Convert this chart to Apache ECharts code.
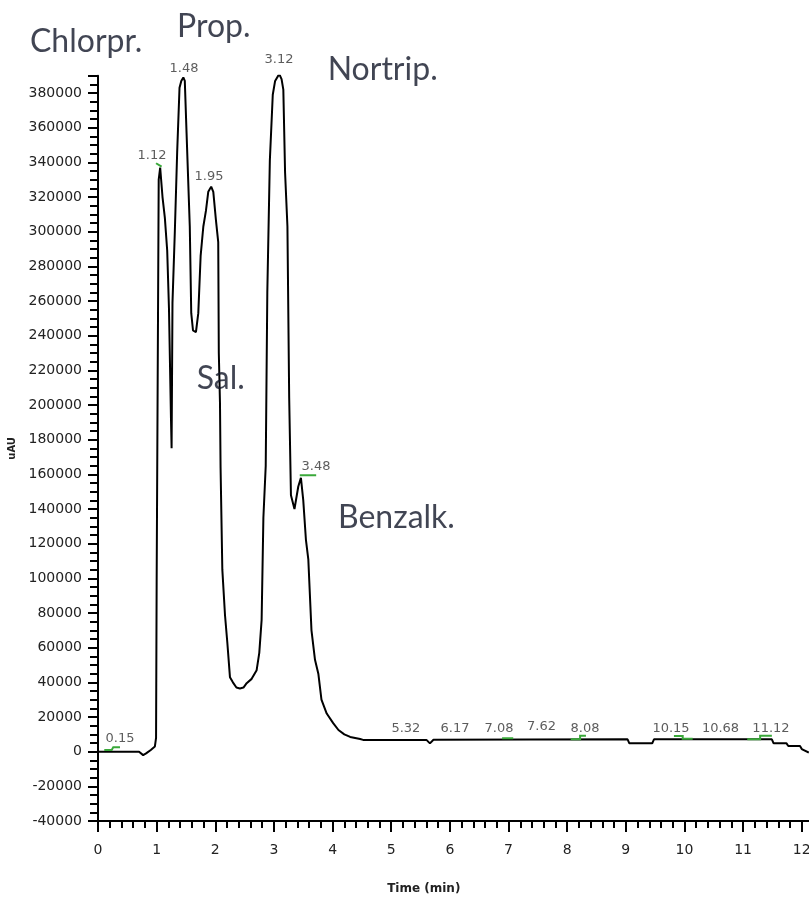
<!DOCTYPE html>
<html>
<head>
	<meta charset="utf-8">
	<title>Chromatogram</title>
	<script src="https://cdn.jsdelivr.net/npm/echarts@6/dist/echarts.min.js"></script>
	<style>
		html, body { margin: 0; padding: 0; background: #fff; }
		#chart { width: 809px; height: 897px; }
	</style>
</head>
<body>
	<div id="chart"></div>
	<script>
		// trace (time in min, signal in uAU)
		const times = [
			0, 0.70, 0.77, 0.82, 0.90, 0.97, 0.99, 1.00, 1.01, 1.035, 1.06, 1.09,
			1.10, 1.14, 1.18, 1.21, 1.245, 1.255, 1.27, 1.31, 1.35, 1.39, 1.42, 1.455,
			1.48, 1.51, 1.565, 1.59, 1.62, 1.67, 1.71, 1.75, 1.796, 1.84, 1.88, 1.93,
			1.966, 2.01, 2.05, 2.06, 2.08, 2.09, 2.12, 2.165, 2.205, 2.25, 2.30, 2.36,
			2.42, 2.48, 2.535, 2.62, 2.705, 2.75, 2.79, 2.82, 2.86, 2.887, 2.93, 2.98,
			3.02, 3.09, 3.13, 3.16, 3.19, 3.23, 3.26, 3.29, 3.35, 3.415, 3.46, 3.50,
			3.546, 3.586, 3.64, 3.70, 3.757, 3.81, 3.90, 4.01, 4.10, 4.20, 4.30, 4.47,
			4.52, 5.60, 5.66, 5.72, 9.03, 9.06, 9.45, 9.48, 11.49, 11.52, 11.74, 11.77,
			11.97, 12.00, 12.12
		];
		const signal = [
			0, 0, -2000, -1000, 1000, 3000, 8000, 97000, 97000, 330000, 337000, 338000,
			320000, 308000, 289000, 256000, 191000, 175000, 259000, 300000, 346000, 383000, 387000, 389000,
			387000, 357000, 303000, 253000, 243000, 242000, 253000, 286000, 303000, 312000, 323000, 326000,
			323000, 307000, 294000, 230000, 201000, 164000, 105000, 79000, 63000, 43000, 40000, 37000,
			36500, 37000, 39500, 42000, 47000, 57000, 76000, 135000, 165000, 265000, 341000, 379000,
			387000, 391000, 388000, 382000, 334000, 303000, 204000, 148000, 140000, 153000, 158000, 145000,
			122000, 111000, 70000, 53000, 45000, 30000, 22000, 16500, 12500, 10000, 8500, 7300,
			6800, 6800, 4800, 6900, 7100, 4800, 4800, 7100, 7100, 4800, 4800, 3300,
			3300, 1500, -500
		];

		// retention time labels: anchor time, anchor signal, text
		const peakTimes = [0.375, 0.92, 1.466, 1.893, 3.086, 3.717, 5.25, 6.087, 6.837, 7.562, 8.303, 9.77, 10.614, 11.475];
		const peakHeights = [7300, 344000, 394000, 331700, 399000, 164400, 13400, 13400, 13400, 14400, 13400, 13400, 13400, 13400];
		const peakNames = ['0.15', '1.12', '1.48', '1.95', '3.12', '3.48', '5.32', '6.17', '7.08', '7.62', '8.08', '10.15', '10.68', '11.12'];

		// compound names written on the chart
		const compoundNames = ['Chlorpr.', 'Prop.', 'Nortrip.', 'Sal.', 'Benzalk.'];
		const compoundTimes = [-1.16, 1.347, 3.916, 1.683, 4.092];
		const compoundHeights = [409400, 418100, 393600, 215300, 134800];

		// green integration marks
		const greenMarks = [
			[[0.107, 1000], [0.233, 1000], [0.26, 2500], [0.375, 2500]],
			[[0.99, 339500], [1.085, 337500]],
			[[3.44, 159500], [3.72, 159500]],
			[[6.89, 7700], [7.08, 7700]],
			[[8.06, 7100], [8.22, 7100], [8.22, 9200], [8.32, 9200]],
			[[9.82, 9000], [9.97, 9000], [9.97, 7500], [10.14, 7500]],
			[[11.07, 7100], [11.29, 7100], [11.29, 9200], [11.49, 9200]]
		];

		const chart = echarts.init(document.getElementById('chart'));

		const tracePoints = times.map((t, i) => [t, signal[i]]);
		const peakPoints = peakTimes.map((t, i) => ({value: [t, peakHeights[i]], name: peakNames[i]}));
		const compoundPoints = compoundTimes.map((t, i) => ({value: [t, compoundHeights[i]], name: compoundNames[i]}));

		const axisFont = {fontFamily: 'DejaVu Sans', fontSize: 14, color: '#222'};

		chart.setOption({
			animation: false,
			grid: {left: 98, right: -4.5, top: 75.7, bottom: 76, containLabel: false, outerBoundsMode: 'none'},
			xAxis: {
				type: 'value',
				min: 0,
				max: 12.2,
				interval: 1,
				name: 'Time (min)',
				nameLocation: 'middle',
				nameGap: 62,
				nameTextStyle: {fontFamily: 'DejaVu Sans', fontSize: 12, fontWeight: 'bold', color: '#222', padding: [0, 64, 0, 0]},
				axisLine: {onZero: false, lineStyle: {color: '#000', width: 2}},
				axisTick: {length: 11, lineStyle: {color: '#000', width: 2}},
				minorTick: {show: true, splitNumber: 5, length: 7, lineStyle: {color: '#000', width: 2}},
				axisLabel: Object.assign({margin: 22, showMaxLabel: false}, axisFont),
				splitLine: {show: false}
			},
			yAxis: {
				type: 'value',
				min: -40000,
				max: 390000,
				interval: 20000,
				name: 'uAU',
				nameLocation: 'middle',
				nameGap: 75,
				nameTextStyle: {fontFamily: 'DejaVu Sans', fontSize: 10, fontWeight: 'bold', color: '#222'},
				axisLine: {show: true, lineStyle: {color: '#000', width: 2}},
				axisTick: {show: true, length: 10, lineStyle: {color: '#000', width: 2}},
				minorTick: {show: true, splitNumber: 4, length: 8, lineStyle: {color: '#000', width: 2}},
				axisLabel: Object.assign({margin: 16, showMaxLabel: false, formatter: v => String(v)}, axisFont),
				splitLine: {show: false}
			},
			series: [
				{
					type: 'line',
					data: tracePoints,
					showSymbol: false,
					lineStyle: {color: '#000', width: 2},
					z: 3
				},
				{
					type: 'lines',
					coordinateSystem: 'cartesian2d',
					polyline: true,
					data: greenMarks.map(c => ({coords: c})),
					lineStyle: {color: '#3aa83a', width: 2, opacity: 1},
					z: 4
				},
				{
					type: 'scatter',
					data: peakPoints,
					clip: false,
					symbolSize: 1,
					itemStyle: {color: 'transparent'},
					label: {
						show: true,
						position: 'inside',
						formatter: p => p.name,
						fontFamily: 'DejaVu Sans',
						fontSize: 13,
						color: '#333'
					},
					z: 5
				},
				{
					type: 'scatter',
					data: compoundPoints,
					clip: false,
					symbolSize: 1,
					itemStyle: {color: 'transparent'},
					label: {
						show: true,
						position: 'inside',
						align: 'left',
						formatter: p => p.name,
						fontFamily: 'Lato',
						fontSize: 32,
						color: '#111628'
					},
					z: 6
				}
			]
		});
	</script>
</body>
</html>
